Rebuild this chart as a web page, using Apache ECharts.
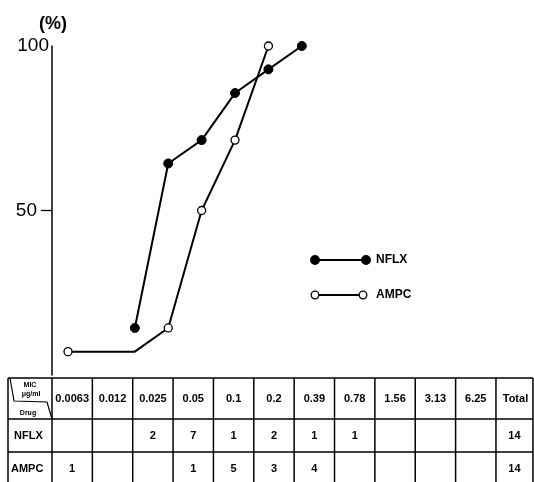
<!DOCTYPE html>
<html><head><meta charset="utf-8">
<script src="https://cdn.jsdelivr.net/npm/echarts@6/dist/echarts.min.js"></script>
<style>html,body{margin:0;padding:0;background:#fff}#c{width:534px;height:482px}</style>
</head><body><div id="c"></div>
<script>
// ---- data ----
const micLabels = ['0.0063','0.012','0.025','0.05','0.1','0.2','0.39','0.78','1.56','3.13','6.25'];
const drugs = ['NFLX','AMPC'];
const nflxCounts = [null,null,2,7,1,2,1,1,null,null,null];
const ampcCounts = [1,null,null,1,5,3,4,null,null,null,null];
const totals = [14,14];
// cumulative %, indexed by MIC column
const nflxCum = [null,null,14.3,64.3,71.4,85.7,92.9,100];
const ampcCum = [7.1,7.1,7.1,14.3,50,71.4,100];
const ampcMarked = [true,false,false,true,true,true,true];
const yLabelLow = [50];
const yLabelHigh = [100];

// ---- layout ----
const FONT = "'Liberation Sans Narrow','Liberation Sans',Arial,sans-serif";
const FONT2 = "'Liberation Sans',Arial,sans-serif";
const step = 33.4;
const gridLeft = 52, gridTop = 46, gridH = 329;
const tbl = {left: 8, firstW: 44, colW: 40.36, totalW: 37, rows: [378, 419, 452, 486]};

const chart = echarts.init(document.getElementById('c'), null, {renderer: 'canvas'});

const nflxData = [];
nflxCum.forEach((v, i) => { if (v != null) nflxData.push([i, v]); });
const ampcData = ampcCum.map((v, i) => ({value: [i, v], symbol: ampcMarked[i] ? 'circle' : 'none'}));

// ---- table graphics ----
const g = [];
const lineStyle = {stroke: '#000', lineWidth: 1.5};
const colEdges = [tbl.left, tbl.left + tbl.firstW];
for (let i = 0; i < micLabels.length; i++) colEdges.push(colEdges[colEdges.length - 1] + tbl.colW);
colEdges.push(colEdges[colEdges.length - 1] + tbl.totalW);
const tTop = tbl.rows[0], tBot = tbl.rows[tbl.rows.length - 1];
colEdges.forEach(x => g.push({type: 'line', shape: {x1: x, y1: tTop, x2: x, y2: tBot}, style: lineStyle}));
tbl.rows.forEach(y => g.push({type: 'line', shape: {x1: colEdges[0], y1: y, x2: colEdges[colEdges.length - 1], y2: y}, style: lineStyle}));
// header corner
const c0 = colEdges[0], c1 = colEdges[1], r0 = tbl.rows[0], r1 = tbl.rows[1];
g.push({type: 'polyline', shape: {points: [[c0 + 2, r0], [c0 + 6, r0 + 23], [c1 - 5, r0 + 24], [c1, r1]]}, style: {stroke: '#000', lineWidth: 1.2, fill: null}});
const smallTxt = (t, x, y) => ({type: 'text', x: x, y: y, style: {text: t, fill: '#000', font: 'bold 7px ' + FONT2, align: 'center', verticalAlign: 'middle'}});
g.push(smallTxt('MIC', c0 + 22, r0 + 7));
g.push(smallTxt('\u03bcg/ml', c0 + 23, r0 + 16));
g.push(smallTxt('Drug', c0 + 20, r0 + 35));
const cellTxt = (t, x, y, align) => ({type: 'text', x: x, y: y, style: {text: String(t), fill: '#000', font: 'bold 11px ' + FONT2, align: align || 'center', verticalAlign: 'middle'}});
const hy = (tbl.rows[0] + tbl.rows[1]) / 2;
micLabels.forEach((m, i) => g.push(cellTxt(m, (colEdges[i + 1] + colEdges[i + 2]) / 2, hy)));
g.push(cellTxt('Total', (colEdges[12] + colEdges[13]) / 2 + 1, hy));
[nflxCounts, ampcCounts].forEach((cnts, r) => {
  const y = (tbl.rows[r + 1] + tbl.rows[r + 2]) / 2;
  g.push(cellTxt(drugs[r], c0 + (r === 0 ? 6 : 3), y, 'left'));
  cnts.forEach((v, i) => { if (v != null) g.push(cellTxt(v, (colEdges[i + 1] + colEdges[i + 2]) / 2, y)); });
  g.push(cellTxt(totals[r], (colEdges[12] + colEdges[13]) / 2, y));
});
// y unit
g.push({type: 'text', x: 53, y: 24, style: {text: '(%)', fill: '#000', font: 'bold 18px ' + FONT, align: 'center', verticalAlign: 'middle'}});
// legend
const legendItems = [{name: 'NFLX', y: 260, fill: '#000', xl: 315, xr: 366}, {name: 'AMPC', y: 295, fill: '#fff', xl: 315, xr: 363}];
legendItems.forEach(it => {
  g.push({type: 'line', shape: {x1: it.xl, y1: it.y, x2: it.xr, y2: it.y}, style: {stroke: '#000', lineWidth: 2}});
  [it.xl, it.xr].forEach(x => g.push({type: 'circle', shape: {cx: x, cy: it.y, r: it.fill === '#000' ? 4.3 : 3.8}, style: {fill: it.fill, stroke: '#000', lineWidth: 1.3}}));
  g.push({type: 'text', x: 376, y: it.y, style: {text: it.name, fill: '#000', font: 'bold 12px ' + FONT2, align: 'left', verticalAlign: 'middle'}});
});

chart.setOption({
  animation: false,
  backgroundColor: '#fff',
  grid: {left: gridLeft, top: gridTop, width: step * 14, height: gridH, containLabel: false},
  xAxis: {type: 'value', min: -0.48, max: 13.52, show: false},
  yAxis: [
    {type: 'value', min: 0, max: 100, position: 'left',
      axisLine: {show: true, onZero: false, lineStyle: {color: '#000', width: 1.5}},
      axisTick: {show: true, length: 11, customValues: yLabelLow, lineStyle: {color: '#000', width: 1.3}},
      axisLabel: {customValues: yLabelLow, margin: 15, color: '#000', fontSize: 19, fontFamily: FONT},
      splitLine: {show: false}},
    {type: 'value', min: 0, max: 100, position: 'left',
      axisLine: {show: false, onZero: false}, axisTick: {show: false},
      axisLabel: {customValues: yLabelHigh, margin: 3, color: '#000', fontSize: 19, fontFamily: FONT},
      splitLine: {show: false}}
  ],
  series: [
    {name: 'NFLX', type: 'line', data: nflxData, symbol: 'circle', symbolSize: 9,
      lineStyle: {color: '#000', width: 2}, itemStyle: {color: '#000', borderColor: '#000'}},
    {name: 'AMPC', type: 'line', data: ampcData, symbol: 'circle', symbolSize: 8,
      lineStyle: {color: '#000', width: 2}, itemStyle: {color: '#fff', borderColor: '#000', borderWidth: 1.3}}
  ],
  graphic: g
});
</script>
</body></html>
